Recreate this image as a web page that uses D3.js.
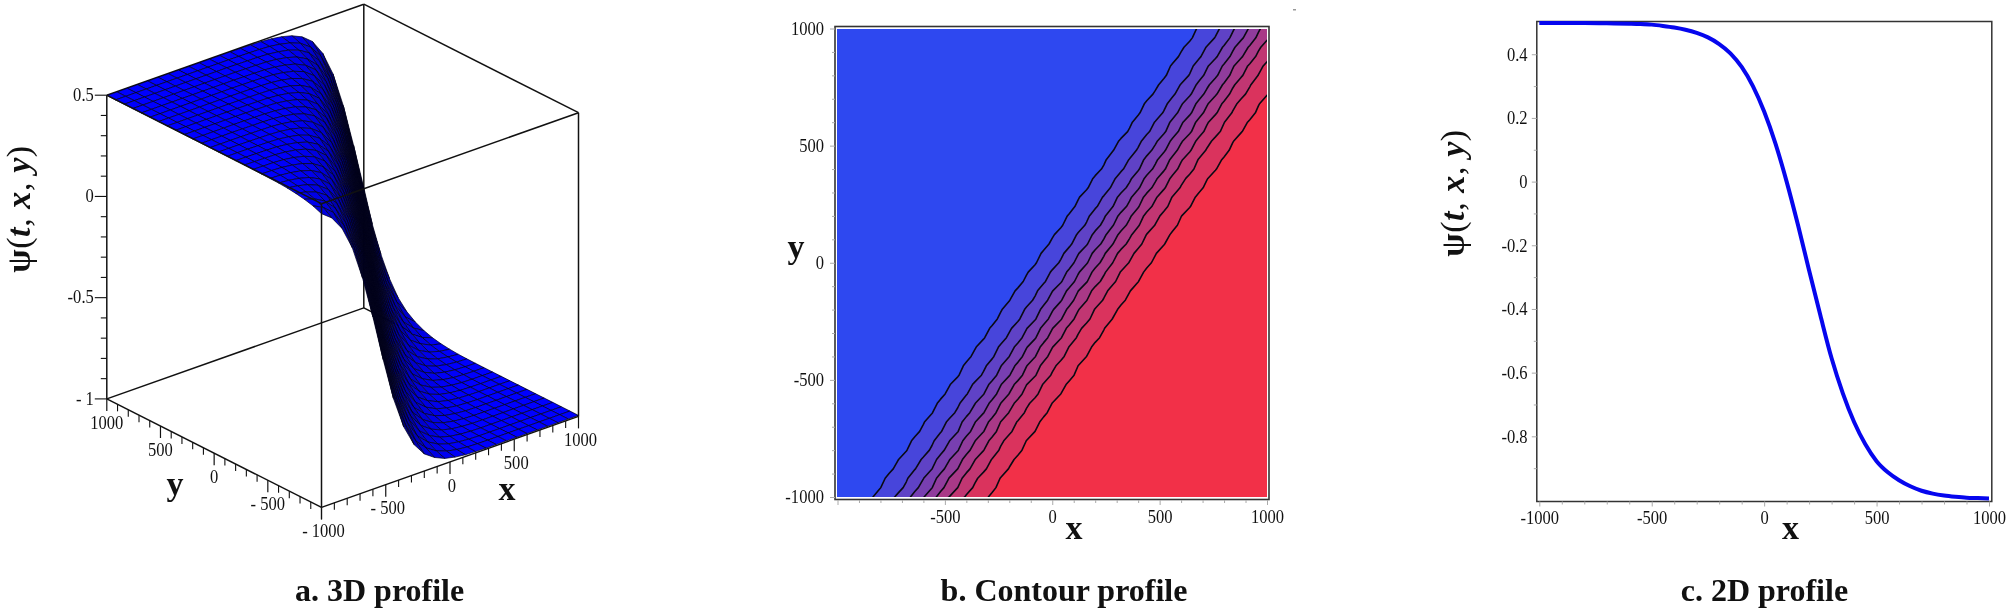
<!DOCTYPE html>
<html><head><meta charset="utf-8">
<script src="https://cdn.jsdelivr.net/npm/d3@7"></script>
<style>
html,body{margin:0;padding:0;background:#fff}
svg{display:block;filter:blur(0.45px)}
text{font-family:"Liberation Serif",serif;fill:#111}
</style></head><body>
<svg id="c" width="2007" height="612"></svg>
<script>
// ---- data ----
const profileX = [-1000,-900,-800,-700,-600,-550,-500,-450,-400,-350,-300,-250,-200,-150,-100,-50,0,50,100,150,200,250,300,350,400,450,500,550,600,650,700,750,800,850,900,950,1000];
const profilePsi = [0.498,0.498,0.498,0.497,0.496,0.495,0.493,0.489,0.484,0.477,0.467,0.453,0.432,0.403,0.360,0.300,0.220,0.120,0.000,-0.135,-0.279,-0.420,-0.555,-0.665,-0.755,-0.825,-0.878,-0.913,-0.938,-0.957,-0.971,-0.980,-0.986,-0.990,-0.993,-0.994,-0.995];
const frontSlope = 0.755;               // contour lines advance this much x per unit of y
const contourLevels = [-0.833,-0.667,-0.5,-0.333,-0.167,0,0.167,0.333];
const gridCoords = [-1000,-920,-840,-760,-680,-600,-520,-440,-360,-280,-200,-120,-40,40,120,200,280,360,440,520,600,680,760,840,920,1000];
const contourCoords = [-1000,-960,-920,-880,-840,-800,-760,-720,-680,-640,-600,-560,-520,-480,-440,-400,-360,-320,-280,-240,-200,-160,-120,-80,-40,0,40,80,120,160,200,240,280,320,360,400,440,480,520,560,600,640,680,720,760,800,840,880,920,960,1000];
// the small ripple of the drawn contour lines, in x units, row by row and column by column
const rippleRow = [4,-3,5,-3,3,-4,3,-4,5,-2,4,-3,4,-5,3,-3,4,-3,4,-4,3,-2,5,-4,3,-3,4,-4,2,-4,4,-3,5,-3,3,-4,4,-2,3,-5,4,-3,4,-3,2,-4,5,-3,3,-4,4];
const rippleCol = [2,-2,1,2,-2,-1,2,1,-2,2,-1,-2,2,1,-2,2,1,-2,-2,2,1,-1,2,-2,1,2,-2,-1,2,-1,2,-2,1,2,-2,-1,2,-1,-2,1,2,-2,1,2,-1,-2,2,1,-2,1,-1];
const contourBlue = "#2e48f0", contourRed = "#f23048";
const axisMajor = [-1000,-500,0,500,1000];
const axisMinor = [-900,-800,-700,-600,-400,-300,-200,-100,100,200,300,400,600,700,800,900];
const zMajor = [-1,-0.5,0,0.5];
const zLabels = ["- 1","-0.5","0","0.5"];
const zMinor = [-0.9,-0.8,-0.7,-0.6,-0.4,-0.3,-0.2,-0.1,0.1,0.2,0.3,0.4];
const psiMajor = [-0.8,-0.6,-0.4,-0.2,0,0.2,0.4];
const psiMinor = [-0.9,-0.7,-0.5,-0.3,-0.1,0.1,0.3];
const titles = ["a. 3D profile","b. Contour profile","c. 2D profile"];

const svg = d3.select("#c");
const psiOf = d3.scaleLinear().domain(profileX).range(profilePsi).clamp(true);
const surface = (x,y) => psiOf(x - frontSlope*y);

function bold(g,x,y,s,size){
  return g.append("text").attr("x",x).attr("y",y).attr("text-anchor","middle")
    .attr("font-weight","bold").attr("font-size",size).text(s);
}
function tick(g,x,y,s,size,anchor,sx){
  g.append("text").attr("transform",`translate(${x},${y}) scale(${sx},1)`)
    .attr("text-anchor",anchor).attr("dominant-baseline","central")
    .attr("font-size",size).text(s);
}
function psiLabel(cx,cy,size){
  const t = svg.append("text").attr("transform",`translate(${cx},${cy}) rotate(-90)`)
    .attr("text-anchor","middle").attr("font-size",size).attr("letter-spacing",0.6);
  [["ψ","bold","normal"],["(",400,"normal"],["t","bold","italic"],[", ",400,"normal"],["x","bold","italic"],[", ",400,"normal"],["y","bold","italic"],[")",400,"normal"]]
   .forEach(([s,w,st])=>t.append("tspan").attr("font-weight",w).attr("font-style",st).attr("xml:space","preserve").text(s));
}

// ---- panel a : boxed 3D surface ----
(function(){
  const g = svg.append("g");
  const ax = d3.scaleLinear().domain([-1000,1000]).range([0,257]);      // x axis → screen dx
  const ay = d3.scaleLinear().domain([-1000,1000]).range([0,-91]);      // x axis → screen dy
  const bx = d3.scaleLinear().domain([-1000,1000]).range([0,-214.7]);   // y axis → screen dx
  const by = d3.scaleLinear().domain([-1000,1000]).range([0,-108.5]);   // y axis → screen dy
  const cz = d3.scaleLinear().domain([-1,0.5]).range([0,-303.7]);       // z axis → screen dy
  const P = (x,y,z)=>[321.5+ax(x)+bx(y), 507.4+ay(x)+by(y)+cz(z)];
  const seg = (a,b,w=1.5)=>g.append("line").attr("x1",a[0]).attr("y1",a[1]).attr("x2",b[0]).attr("y2",b[1])
      .attr("stroke","#111").attr("stroke-width",w);
  const lo=-1,hi=0.5,m=-1000,M=1000;
  // rear edges
  seg(P(M,M,hi),P(M,M,lo)); seg(P(m,M,lo),P(M,M,lo)); seg(P(M,-M,lo),P(M,M,lo));
  seg(P(m,M,hi),P(M,M,hi)); seg(P(M,M,hi),P(M,m,hi));
  // surface, painted from the far corner to the near corner
  const cells=[];
  gridCoords.slice(0,-1).forEach((x0,i)=>gridCoords.slice(0,-1).forEach((y0,j)=>{
    cells.push({x0,x1:gridCoords[i+1],y0,y1:gridCoords[j+1]});
  }));
  cells.sort((a,b)=>(b.x0+b.y0)-(a.x0+a.y0));
  const shade = d3.scaleLinear().domain([0,0.0009,0.0029]).range([1,0.72,0.14]).clamp(true);
  g.append("g").selectAll("path").data(cells).join("path")
    .attr("d",c=>{
      const pts=[[c.x0,c.y0],[c.x1,c.y0],[c.x1,c.y1],[c.x0,c.y1]].map(([x,y])=>P(x,y,surface(x,y)));
      return d3.line()(pts)+"Z";
    })
    .attr("fill",c=>{
      const s=Math.abs(surface(c.x1,(c.y0+c.y1)/2)-surface(c.x0,(c.y0+c.y1)/2))/(c.x1-c.x0);
      return d3.rgb(0,0,Math.round(255*shade(s)));
    })
    .attr("stroke","#000018").attr("stroke-width",0.7).attr("stroke-linejoin","round");
  // front edges
  seg(P(m,M,lo),P(m,M,hi)); seg(P(m,m,lo),P(m,m,hi)); seg(P(M,m,lo),P(M,m,hi));
  seg(P(m,M,lo),P(m,m,lo)); seg(P(m,m,lo),P(M,m,lo));
  seg(P(m,M,hi),P(m,m,hi)); seg(P(m,m,hi),P(M,m,hi));
  // ticks
  axisMajor.forEach(v=>{
    let p=P(v,m,lo); seg(p,[p[0],p[1]+12],1.2);
    tick(g,p[0]+2,p[1]+24,v<0?"- "+(-v):v,18,"middle",0.92);
    p=P(m,v,lo); seg(p,[p[0],p[1]+12],1.2);
    if(v!==-1000) tick(g,p[0],p[1]+24,v<0?"- "+(-v):v,18,"middle",0.92);
  });
  axisMinor.forEach(v=>{
    let p=P(v,m,lo); seg(p,[p[0],p[1]+7],1.1);
    p=P(m,v,lo); seg(p,[p[0],p[1]+7],1.1);
  });
  zMajor.forEach((v,i)=>{
    const p=P(m,M,v); seg(p,[p[0]-12,p[1]],1.1);
    tick(g,p[0]-13,p[1],zLabels[i],18,"end",0.92);
  });
  zMinor.forEach(v=>{ const p=P(m,M,v); seg(p,[p[0]-6,p[1]],1.1); });
  bold(g,175,495,"y",34);
  bold(g,507,500,"x",34);
})();
psiLabel(30,209,34);

// ---- panel b : contour plot ----
(function(){
  const g = svg.append("g");
  const x = d3.scaleLinear().domain([-1000,1000]).range([837.5,1267]);
  const y = d3.scaleLinear().domain([-1000,1000]).range([497,28.5]);
  const n = contourCoords.length, step = contourCoords[1]-contourCoords[0];
  const values = [];
  contourCoords.forEach((yv,j)=>contourCoords.forEach((xv,i)=>values.push(surface(xv+rippleRow[j]+rippleCol[i],yv))));
  const regions = d3.contours().size([n,n]).thresholds(contourLevels)(values);
  const project = d3.geoTransform({point(cx,cy){
    this.stream.point(x(-1000+(cx-0.5)*step), y(-1000+(cy-0.5)*step));
  }});
  const path = d3.geoPath(project);
  const band = d3.interpolateRgb(contourBlue,contourRed);
  svg.append("clipPath").attr("id","bclip").append("rect").attr("x",837).attr("y",29).attr("width",430).attr("height",468);
  const inner = g.append("g").attr("clip-path","url(#bclip)");
  inner.append("rect").attr("x",837).attr("y",29).attr("width",430).attr("height",468).attr("fill",contourRed);
  inner.selectAll("path").data(regions).join("path").attr("d",path)
    .attr("fill",(d,i)=>band((contourLevels.length-1-i)/contourLevels.length))
    .attr("stroke","#0a0a14").attr("stroke-width",1.6).attr("stroke-linejoin","round");
  g.append("rect").attr("x",835).attr("y",26.5).attr("width",434).attr("height",473).attr("fill","none").attr("stroke","#333").attr("stroke-width",1.6);
  const xa=g.append("g").attr("transform","translate(0,500)").call(d3.axisBottom(x).tickValues(axisMajor).tickSize(5).tickFormat(d=>d===-1000?"":d));
  const ya=g.append("g").attr("transform","translate(835,0)").call(d3.axisLeft(y).tickValues(axisMajor).tickSize(5).tickFormat(d=>d));
  g.append("g").attr("transform","translate(0,500)").call(d3.axisBottom(x).tickValues(axisMinor).tickSize(3).tickFormat(""));
  g.append("g").attr("transform","translate(835,0)").call(d3.axisLeft(y).tickValues(axisMinor).tickSize(3).tickFormat(""));
  g.selectAll(".domain").remove();
  g.selectAll(".tick line").attr("stroke","#aaa");
  xa.selectAll("text").attr("font-family","Liberation Serif").attr("font-size",18).attr("fill","#111").attr("y",10).attr("transform","scale(0.92,1)");
  ya.selectAll("text").attr("font-family","Liberation Serif").attr("font-size",18).attr("fill","#111").attr("x",-12).attr("transform","scale(0.92,1)");
  bold(g,1074,539,"x",34);
  bold(g,796,258,"y",34);
  g.append("rect").attr("x",1293).attr("y",9).attr("width",3).attr("height",1.5).attr("fill","#999");
})();

// ---- panel c : 2D curve ----
(function(){
  const g = svg.append("g");
  const x = d3.scaleLinear().domain([-1000,1000]).range([1539.3,1989]);
  const y = d3.scaleLinear().domain([-1,0.5]).range([500,22.4]);
  g.append("rect").attr("x",1536.8).attr("y",21.5).attr("width",455).attr("height",480).attr("fill","none").attr("stroke","#333").attr("stroke-width",1.5);
  g.append("path").datum(profileX.map((d,i)=>[d,profilePsi[i]]))
    .attr("d",d3.line().x(d=>x(d[0])).y(d=>y(d[1])).curve(d3.curveMonotoneX))
    .attr("fill","none").attr("stroke","#0606ee").attr("stroke-width",4);
  const xa=g.append("g").attr("transform","translate(0,501.5)").call(d3.axisBottom(x).tickValues(axisMajor).tickSize(5).tickFormat(d=>d));
  const ya=g.append("g").attr("transform","translate(1536.8,0)").call(d3.axisLeft(y).tickValues(psiMajor).tickSize(5).tickFormat(d=>d));
  g.append("g").attr("transform","translate(0,501.5)").call(d3.axisBottom(x).tickValues(axisMinor).tickSize(3).tickFormat(""));
  g.append("g").attr("transform","translate(1536.8,0)").call(d3.axisLeft(y).tickValues(psiMinor).tickSize(3).tickFormat(""));
  g.selectAll(".domain").remove();
  g.selectAll(".tick line").attr("stroke","#aaa");
  xa.selectAll("text").attr("font-family","Liberation Serif").attr("font-size",18).attr("fill","#111").attr("y",10).attr("transform","scale(0.92,1)");
  ya.selectAll("text").attr("font-family","Liberation Serif").attr("font-size",18).attr("fill","#111").attr("x",-10).attr("transform","scale(0.92,1)");
  bold(g,1790.6,539,"x",34);
})();
psiLabel(1464,193,34);

// ---- captions ----
const capX=[379.6,1064,1764.4];
titles.forEach((t,i)=>bold(svg,capX[i],601,t,32));
</script>
</body></html>
